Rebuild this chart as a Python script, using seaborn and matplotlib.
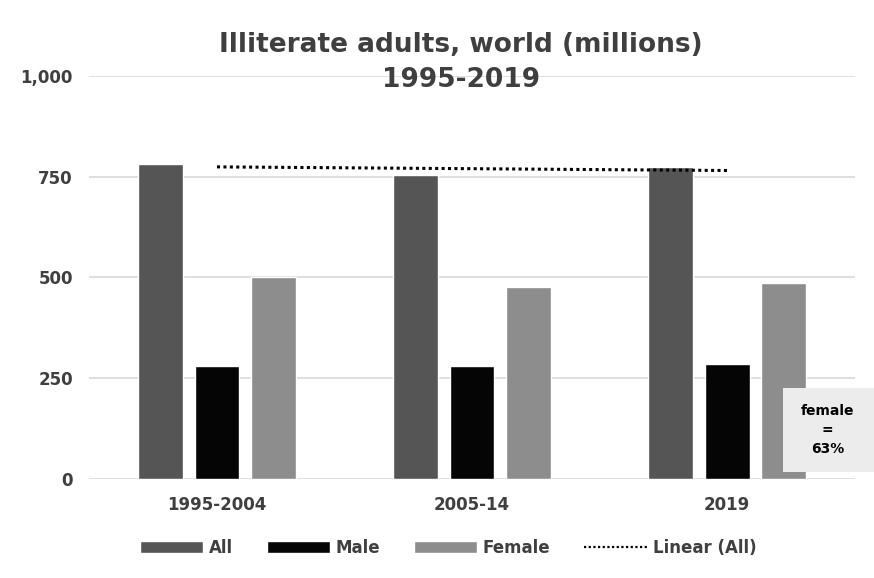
import numpy as np
import pandas as pd
import matplotlib
matplotlib.use("Agg")
import matplotlib.pyplot as plt
import seaborn as sns
from matplotlib.lines import Line2D
from matplotlib.patches import Patch, Rectangle

periods = ["1995-2004", "2005-14", "2019"]
all_vals = [782, 755, 773]
male_vals = [281, 281, 286]
female_vals = [502, 477, 487]
series = ["All", "Male", "Female"]
yticks = [0, 250, 500, 750, 1000]
ytick_labels = ["0", "250", "500", "750", "1,000"]

df = pd.DataFrame({
    "period": periods * 3,
    "series": ["All"] * 3 + ["Male"] * 3 + ["Female"] * 3,
    "value": all_vals + male_vals + female_vals,
})

sns.set_theme(style="white")
plt.rcParams['font.family'] = ['DejaVu Sans']
colors = {"All": "#555555", "Male": "#050505", "Female": "#8d8d8d"}
txt = "#3f3f3f"

fig = plt.figure(figsize=(8.74, 5.78), dpi=100)
ax = fig.add_axes([0.1024, 0.1713, 0.8753, 0.6972])
sns.barplot(data=df, x="period", y="value", hue="series", hue_order=series,
            palette=colors, width=0.67, gap=0.21, ax=ax, legend=False,
            saturation=1)

# linear trendline of All
xs = np.arange(len(periods))
coef = np.polyfit(xs, all_vals, 1)
ax.plot(xs, np.polyval(coef, xs), linestyle=(0, (1, 1.1)), color="black", lw=2.2)

ax.set_ylim(0, 1000)
ax.set_xlim(-0.5, 2.5)
ax.set_yticks(yticks)
ax.set_yticklabels(ytick_labels)
ax.yaxis.grid(True, color="#d9d9d9", lw=1.2)
ax.set_axisbelow(True)
for s in ax.spines.values():
    s.set_visible(False)
ax.tick_params(axis="both", length=0, labelsize=12, labelcolor=txt)
ax.tick_params(axis="y", pad=12)
ax.tick_params(axis="x", pad=12)
for lab in ax.get_xticklabels() + ax.get_yticklabels():
    lab.set_fontweight("bold")
ax.set_xlabel("")
ax.set_ylabel("")

fig.text(0.527, 0.922, "Illiterate adults, world (millions)",
         ha="center", va="center", fontsize=19, fontweight="bold", color=txt)
fig.text(0.527, 0.862, "1995-2019",
         ha="center", va="center", fontsize=19, fontweight="bold", color=txt)

# annotation box
fig.patches.append(Rectangle((0.896, 0.1834), 0.104, 0.1453,
                             transform=fig.transFigure, fc="#ececec", ec="none",
                             zorder=5))
fig.text(0.947, 0.256, "female\n=\n63%", ha="center", va="center",
         fontsize=10, fontweight="bold", color="black", linespacing=1.45,
         zorder=6)

handles = [Patch(fc=colors["All"]), Patch(fc=colors["Male"]),
           Patch(fc=colors["Female"]),
           Line2D([], [], color="black", linestyle=(0, (1, 1.1)), lw=1.6)]
fig.legend(handles, ["All", "Male", "Female", "Linear (All)"], ncol=4,
           loc="center", bbox_to_anchor=(0.513, 0.052), frameon=False,
           handlelength=3.8, handleheight=0.7, handletextpad=0.35,
           columnspacing=2.0,
           prop=dict(size=12, weight="bold"), labelcolor=txt)

fig.savefig("out.png", dpi=100, facecolor="white")
